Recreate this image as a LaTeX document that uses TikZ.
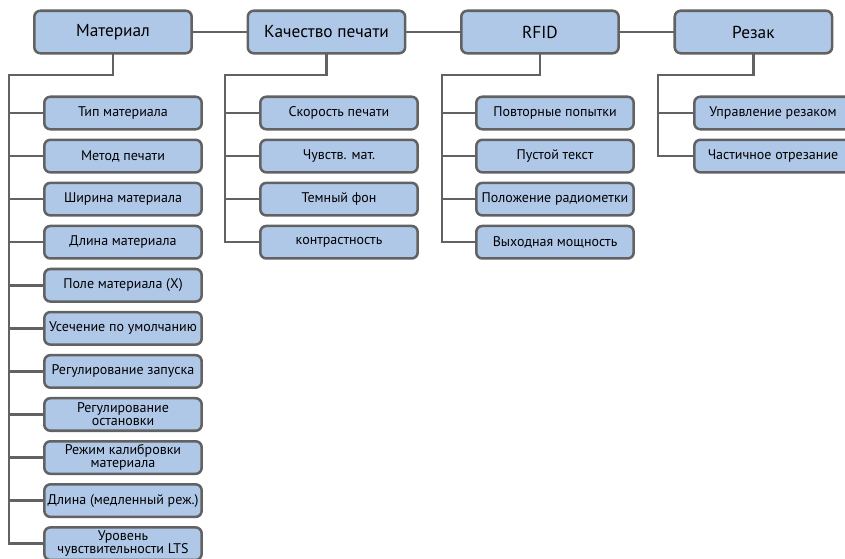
\documentclass[tikz,border=0pt]{standalone}
\usepackage{fontspec}
\setmainfont{PT Sans}
\usetikzlibrary{positioning}

\definecolor{boxfill}{RGB}{176,200,232}
\definecolor{boxline}{RGB}{98,98,98}

\begin{document}
\begin{tikzpicture}[
    x=0.75pt, y=-0.75pt,
    node distance=6.0pt and 40.2pt,
    head/.style={rectangle, draw=boxline, fill=boxfill, line width=1.9pt, rounded corners=4.5pt, align=center, minimum height=31.9pt, minimum width=118pt, font=\fontsize{13}{14}\selectfont},
    item/.style={rectangle, draw=boxline, fill=boxfill, line width=1.9pt, rounded corners=4.5pt, align=center, minimum height=24.4pt, minimum width=118pt, inner sep=0.5pt, font=\fontsize{10.5}{9.8}\selectfont},
    link/.style={draw=boxline, line width=1.9pt, line cap=rect}
]
    \useasboundingbox (0,0) rectangle (845,558);

    % top row
    \node [head] (mat) at (113,32) {Материал};
    \node [head, right=of mat] (kach) {Качество печати};
    \node [head, right=of kach] (rfid) {RFID};
    \node [head, right=of rfid] (rezak) {Резак};

    \draw [link] (mat) -- (kach);
    \draw [link] (kach) -- (rfid);
    \draw [link] (rfid) -- (rezak);

    % Материал
    \node [item] (m1) at (123,113) {Тип материала};
    \node [item, below=of m1] (m2) {Метод печати};
    \node [item, below=of m2] (m3) {Ширина материала};
    \node [item, below=of m3] (m4) {Длина материала};
    \node [item, below=of m4] (m5) {Поле материала (X)};
    \node [item, below=of m5] (m6) {Усечение по умолчанию};
    \node [item, below=of m6] (m7) {Регулирование запуска};
    \node [item, below=of m7] (m8) {Регулирование\\остановки};
    \node [item, below=of m8] (m9) {Режим калибровки\\материала};
    \node [item, below=of m9] (m10) {Длина (медленный реж.)};
    \node [item, below=of m10] (m11) {Уровень\\чувствительности LTS};

    \coordinate (mbus) at (9,75);
    \draw [link] (mat.south) |- (mbus);
    \draw [link] (mbus) |- (m1);
    \draw [link] (mbus) |- (m2);
    \draw [link] (mbus) |- (m3);
    \draw [link] (mbus) |- (m4);
    \draw [link] (mbus) |- (m5);
    \draw [link] (mbus) |- (m6);
    \draw [link] (mbus) |- (m7);
    \draw [link] (mbus) |- (m8);
    \draw [link] (mbus) |- (m9);
    \draw [link] (mbus) |- (m10);
    \draw [link] (mbus) |- (m11);

    % Качество печати
    \node [item] (k1) at (339,113) {Скорость печати};
    \node [item, below=of k1] (k2) {Чувств. мат.};
    \node [item, below=of k2] (k3) {Темный фон};
    \node [item, below=of k3] (k4) {контрастность};

    \coordinate (kbus) at (225,75);
    \draw [link] (kach.south) |- (kbus);
    \draw [link] (kbus) |- (k1);
    \draw [link] (kbus) |- (k2);
    \draw [link] (kbus) |- (k3);
    \draw [link] (kbus) |- (k4);

    % RFID
    \node [item] (r1) at (555,113) {Повторные попытки};
    \node [item, below=of r1] (r2) {Пустой текст};
    \node [item, below=of r2] (r3) {Положение радиометки};
    \node [item, below=of r3] (r4) {Выходная мощность};

    \coordinate (rbus) at (442,75);
    \draw [link] (rfid.south) |- (rbus);
    \draw [link] (rbus) |- (r1);
    \draw [link] (rbus) |- (r2);
    \draw [link] (rbus) |- (r3);
    \draw [link] (rbus) |- (r4);

    % Резак
    \node [item] (z1) at (773,113) {Управление резаком};
    \node [item, below=of z1] (z2) {Частичное отрезание};

    \coordinate (zbus) at (658,75);
    \draw [link] (rezak.south) |- (zbus);
    \draw [link] (zbus) |- (z1);
    \draw [link] (zbus) |- (z2);
\end{tikzpicture}
\end{document}
